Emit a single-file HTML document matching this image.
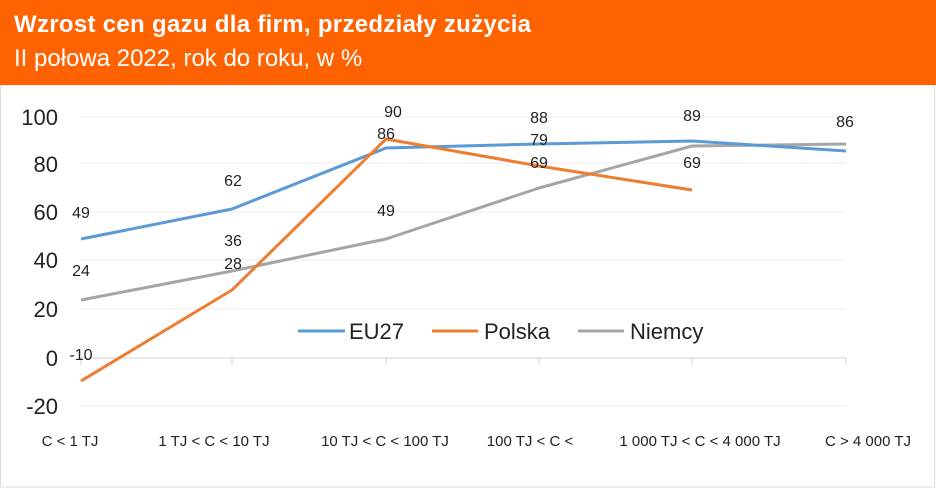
<!DOCTYPE html>
<html><head><meta charset="utf-8"><style>
body{margin:0;width:936px;height:488px;overflow:hidden;background:#fff;font-family:"Liberation Sans",sans-serif}
.h{position:absolute;left:0;top:0;width:936px;height:85px;background:#FF6200;color:#fff}
.t{position:absolute;left:14px;top:11px;font-size:24px;font-weight:bold;letter-spacing:0.3px}
.s{position:absolute;left:14px;top:45px;font-size:24px}
svg{position:absolute;left:0;top:0}
</style></head><body>
<svg width="936" height="488" font-family="Liberation Sans, sans-serif">
<rect x="0.5" y="85" width="934" height="402" fill="#fff" stroke="#dcdcdc"/>
<g stroke="#ececec" stroke-width="1">
<line x1="80" x2="846" y1="117" y2="117"/><line x1="80" x2="846" y1="163" y2="163"/>
<line x1="80" x2="846" y1="212" y2="212"/><line x1="80" x2="846" y1="260" y2="260"/>
<line x1="80" x2="846" y1="309" y2="309"/><line x1="80" x2="846" y1="406" y2="406"/>
</g>
<g stroke="#d0d0d0"><line x1="80" x2="846" y1="358" y2="358"/>
<line x1="81" x2="81" y1="358" y2="365"/><line x1="232" x2="232" y1="358" y2="365"/><line x1="386" x2="386" y1="358" y2="365"/><line x1="539" x2="539" y1="358" y2="365"/><line x1="692" x2="692" y1="358" y2="365"/><line x1="846" x2="846" y1="358" y2="365"/></g>
<g font-size="22" fill="#222" text-anchor="end">
<text x="58" y="125">100</text><text x="58" y="172">80</text><text x="58" y="220">60</text><text x="58" y="268">40</text><text x="58" y="317">20</text><text x="58" y="366">0</text><text x="58" y="414">-20</text></g>
<g fill="none" stroke-width="3" stroke-linejoin="round">
<polyline stroke="#A5A5A5" points="81,300 232,271 386,239 539,188 692,146 846,144"/>
<polyline stroke="#5B9BD5" points="81,239 232,209 386,148 539,144 692,141 846,151"/>
<polyline stroke="#ED7D31" points="81,381 232,290 386,139 539,166 692,190"/>
</g>
<g font-size="16" fill="#222" text-anchor="middle">
<text x="81" y="218">49</text><text x="81" y="276">24</text><text x="81" y="360">-10</text>
<text x="233" y="186">62</text><text x="233" y="246">36</text><text x="233" y="269">28</text>
<text x="393" y="117">90</text><text x="386" y="139">86</text><text x="386" y="216">49</text>
<text x="539" y="123">88</text><text x="539" y="145">79</text><text x="539" y="168">69</text>
<text x="692" y="121">89</text><text x="692" y="168">69</text><text x="845" y="127">86</text>
</g>
<g font-size="15" fill="#222" text-anchor="middle">
<text x="70" y="446">C &lt; 1 TJ</text><text x="214" y="446">1 TJ &lt; C &lt; 10 TJ</text><text x="385" y="446">10 TJ &lt; C &lt; 100 TJ</text>
<text x="530" y="446">100 TJ &lt; C &lt;</text><text x="700" y="446">1 000 TJ &lt; C &lt; 4 000 TJ</text><text x="868" y="446">C &gt; 4 000 TJ</text></g>
<g stroke-width="3"><line x1="298" x2="345" y1="331" y2="331" stroke="#5B9BD5"/><line x1="432" x2="478" y1="331" y2="331" stroke="#ED7D31"/><line x1="578" x2="624" y1="331" y2="331" stroke="#A5A5A5"/></g>
<g font-size="22" fill="#222"><text x="349" y="339">EU27</text><text x="484" y="339">Polska</text><text x="630" y="339">Niemcy</text></g>
</svg>
<div class="h"><div class="t">Wzrost cen gazu dla firm, przedziały zużycia</div><div class="s">II połowa 2022, rok do roku, w %</div></div>
</body></html>
